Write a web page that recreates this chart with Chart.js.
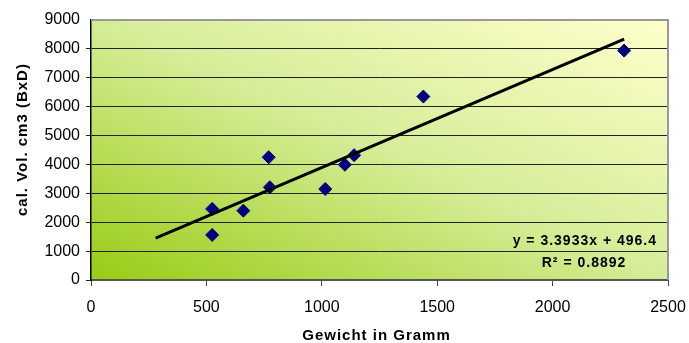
<!DOCTYPE html>
<html>
<head>
<meta charset="utf-8">
<script src="https://cdn.jsdelivr.net/npm/chart.js@4"></script>
<style>
    body { margin: 0; background: #fff; }
    canvas { display: block; }
</style>
</head>
<body>
<canvas id="chart" width="689" height="343"></canvas>
<script>
const gewicht = [525, 525, 660, 770, 775, 1015, 1100, 1140, 1440, 2310];
const volumen = [2460, 1560, 2400, 4250, 3210, 3150, 3990, 4320, 6350, 7940];
const trendX = [280, 2310];
const trendY = [1446, 8335];
const xTicks = [0, 500, 1000, 1500, 2000, 2500];
const yTicks = [0, 1000, 2000, 3000, 4000, 5000, 6000, 7000, 8000, 9000];
const xTitle = "Gewicht in Gramm";
const yTitle = "cal. Vol. cm3 (BxD)";
const equation = "y = 3.3933x + 496.4";
const rSquared = "R² = 0.8892";

const font = "'Liberation Sans', Arial, sans-serif";

// Hintergrund mit diagonalem Verlauf (wie Excel), Rahmen und Beschriftungen
const plotDecor = {
    id: "plotDecor",
    beforeDraw(chart) {
        const { ctx, chartArea: a } = chart;
        const w = a.right - a.left, h = a.bottom - a.top, n2 = w * w + h * h;
        const g = ctx.createLinearGradient(a.left, a.bottom,
            a.left + 2 * w * h * h / n2, a.bottom - 2 * w * w * h / n2);
        g.addColorStop(0, "#98cc14");
        g.addColorStop(0.5, "#d5ed97");
        g.addColorStop(1, "#ffffcc");
        ctx.save();
        ctx.fillStyle = g;
        ctx.fillRect(a.left, a.top, w, h);
        ctx.restore();
    },
    afterDraw(chart) {
        const { ctx, chartArea: a } = chart;
        ctx.save();
        ctx.strokeStyle = "#999";
        ctx.lineWidth = 2;
        ctx.beginPath();
        ctx.moveTo(a.left, a.top);
        ctx.lineTo(a.right, a.top);
        ctx.lineTo(a.right, a.bottom);
        ctx.stroke();

        ctx.fillStyle = "#000";
        ctx.letterSpacing = "1px";
        ctx.font = "bold 14px " + font;
        ctx.textAlign = "right";
        ctx.fillText(equation, a.right - 11, a.bottom - 35);
        ctx.textAlign = "center";
        ctx.fillText(rSquared, a.right - 84, a.bottom - 13);

        // Achsentitel
        ctx.font = "bold 15px " + font;
        ctx.textAlign = "center";
        ctx.fillText(xTitle, (a.left + a.right) / 2 - 3, 340);
        ctx.translate(27, 216);
        ctx.rotate(-Math.PI / 2);
        ctx.textAlign = "left";
        ctx.fillText(yTitle, 0, 0);
        ctx.restore();
    }
};

new Chart(document.getElementById("chart"), {
    type: "scatter",
    data: {
        datasets: [{
            type: "line",
            data: trendX.map((x, i) => ({ x: x, y: trendY[i] })),
            borderColor: "#000",
            borderWidth: 3,
            pointRadius: 0,
            fill: false
        }, {
            data: gewicht.map((x, i) => ({ x: x, y: volumen[i] })),
            pointStyle: "rectRot",
            pointRadius: 6.5,
            backgroundColor: "#000080",
            borderColor: "#000080",
            borderWidth: 1
        }]
    },
    options: {
        responsive: false,
        animation: false,
        layout: { padding: { top: 20, right: 21, left: 0, bottom: 0 } },
        plugins: {
            legend: { display: false },
            tooltip: { enabled: false }
        },
        scales: {
            x: {
                type: "linear",
                min: 0,
                max: 2500,
                afterBuildTicks: s => { s.ticks = xTicks.map(v => ({ value: v })); },
                afterFit: s => { s.height = 63; s.paddingLeft = 0; s.paddingRight = 0; },
                grid: { drawOnChartArea: false, tickLength: 6, color: "#444" },
                border: { color: "#555", width: 2 },
                ticks: {
                    color: "#000",
                    padding: 12,
                    maxRotation: 0,
                    font: { family: font, size: 16 },
                    callback: v => String(v)
                }
            },
            y: {
                min: 0,
                max: 9000,
                afterBuildTicks: s => { s.ticks = yTicks.map(v => ({ value: v })); },
                afterFit: s => { s.width = 91; s.paddingTop = 0; s.paddingBottom = 0; },
                grid: {
                    tickLength: 5,
                    color: c => c.tick && c.tick.value === 9000 ? "rgba(0,0,0,0)" : "#222",
                    lineWidth: 1
                },
                border: { color: "#000", width: 1.5 },
                ticks: {
                    color: "#000",
                    padding: 6,
                    font: { family: font, size: 16 },
                    callback: v => String(v)
                }
            }
        }
    },
    plugins: [plotDecor]
});
</script>
</body>
</html>
